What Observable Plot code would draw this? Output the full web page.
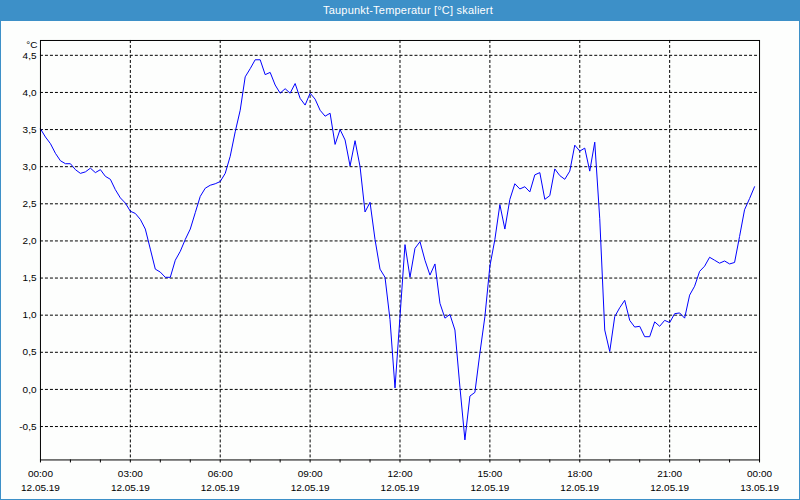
<!DOCTYPE html>
<html>
<head>
<meta charset="utf-8">
<script src="https://cdn.jsdelivr.net/npm/d3@7"></script>
<script src="https://cdn.jsdelivr.net/npm/@observablehq/plot@0.6"></script>
<style>
  html, body { margin: 0; padding: 0; background: #fff; }
  #win { position: relative; width: 800px; height: 500px; box-sizing: border-box;
         border-left: 1px solid #3d90c8; border-right: 1px solid #3d90c8; border-bottom: 1px solid #3d90c8;
         background: #fdfefd; overflow: hidden; }
  #title { position: absolute; left: -1px; top: 0; width: 800px; height: 21px; background: #3d90c8;
           color: #fff; font: 11px "Liberation Sans", Arial, sans-serif; line-height: 20px;
           text-align: center; padding-left: 16px; box-sizing: border-box; letter-spacing: 0.2px; }
  #chart { position: absolute; left: -1px; top: 20px; }
</style>
</head>
<body>
<div id="win">
  <div id="title">Taupunkt-Temperatur [°C] skaliert</div>
  <div id="chart"></div>
</div>
<script>
// Dew point temperature (°C), one value every 10 minutes, 12.05.19 00:00 – 23:50
const values = [
  3.51, 3.40, 3.31, 3.18, 3.08, 3.04, 3.04, 2.96, 2.91, 2.93,
  2.98, 2.92, 2.96, 2.87, 2.83, 2.69, 2.58, 2.51, 2.40, 2.37,
  2.29, 2.16, 1.89, 1.62, 1.58, 1.51, 1.51, 1.74, 1.86, 2.02,
  2.16, 2.38, 2.60, 2.71, 2.75, 2.77, 2.80, 2.91, 3.14, 3.47,
  3.76, 4.21, 4.32, 4.44, 4.44, 4.24, 4.27, 4.10, 3.99, 4.05,
  3.99, 4.12, 3.92, 3.83, 3.99, 3.91, 3.76, 3.68, 3.72,
  3.30, 3.50, 3.36, 3.01, 3.35, 3.00, 2.39, 2.52, 2.02, 1.62,
  1.51, 0.94, 0.02, 0.98, 1.95, 1.51, 1.90, 1.99, 1.74, 1.54,
  1.69, 1.16, 0.96, 1.01, 0.80, 0.03, -0.68, -0.09, -0.04,
  0.49, 0.98, 1.66, 2.02, 2.49, 2.16, 2.56, 2.77, 2.70, 2.73,
  2.66, 2.89, 2.92, 2.56, 2.61, 2.97, 2.88, 2.83, 2.94, 3.29,
  3.21, 3.25, 2.94, 3.33, 2.30, 0.80, 0.51, 0.98, 1.10, 1.20,
  0.93, 0.84, 0.85, 0.71, 0.71, 0.91, 0.85, 0.93, 0.90, 1.02,
  1.03, 0.96, 1.27, 1.39, 1.59, 1.66, 1.78, 1.74, 1.70, 1.73,
  1.69, 1.71, 2.06, 2.42, 2.57, 2.73
];
const stepMinutes = 10;

const xTickHours = [0, 3, 6, 9, 12, 15, 18, 21, 24];
const xTimeLabels = ["00:00", "03:00", "06:00", "09:00", "12:00", "15:00", "18:00", "21:00", "00:00"];
const xDateLabels = ["12.05.19", "12.05.19", "12.05.19", "12.05.19", "12.05.19", "12.05.19", "12.05.19", "12.05.19", "13.05.19"];
const minorHours = d3.range(0, 25, 1);
const gridHours = [3, 6, 9, 12, 15, 18, 21];

const yTicks = [-0.5, 0, 0.5, 1, 1.5, 2, 2.5, 3, 3.5, 4, 4.5];
const yLabels = ["-0,5", "0,0", "0,5", "1,0", "1,5", "2,0", "2,5", "3,0", "3,5", "4,0", "4,5"];
const yUnit = "°C";

const data = values.map((v, i) => ({h: i * stepMinutes / 60, v}));

const chart = Plot.plot({
  width: 800,
  height: 480,
  marginLeft: 40,
  marginRight: 40,
  marginTop: 20,
  marginBottom: 40,
  style: {fontFamily: "Liberation Sans, Arial, sans-serif", fontSize: "10px", background: "transparent", color: "#000"},
  x: {domain: [0, 24], axis: null},
  y: {domain: [-0.95, 4.7], axis: null},
  marks: [
    Plot.ruleY(yTicks, {stroke: "#000", strokeDasharray: "3,2", strokeWidth: 1}),
    Plot.ruleX(gridHours, {stroke: "#000", strokeDasharray: "3,2", strokeWidth: 1}),
    Plot.line(data, {x: "h", y: "v", stroke: "#0000ff", strokeWidth: 1}),
    Plot.frame({stroke: "#000", strokeWidth: 1}),
    Plot.axisX({ticks: minorHours, tickSize: 3, tickFormat: () => "", label: null, stroke: "#000"}),
    Plot.axisY({ticks: yTicks, tickSize: 0, tickPadding: 4, tickFormat: (d, i) => yLabels[i], label: null, fill: "#000"}),
    Plot.text(xTickHours, {x: d => d, text: (d, i) => xTimeLabels[i], frameAnchor: "bottom", lineAnchor: "middle", dy: 14, fill: "#000"}),
    Plot.text(xTickHours, {x: d => d, text: (d, i) => xDateLabels[i], frameAnchor: "bottom", lineAnchor: "middle", dy: 28, fill: "#000"}),
    Plot.text([yUnit], {text: d => d, frameAnchor: "top-left", lineAnchor: "middle", dx: -3, dy: 4, textAnchor: "end", fill: "#000"})
  ]
});
document.getElementById("chart").appendChild(chart);
</script>
</body>
</html>
